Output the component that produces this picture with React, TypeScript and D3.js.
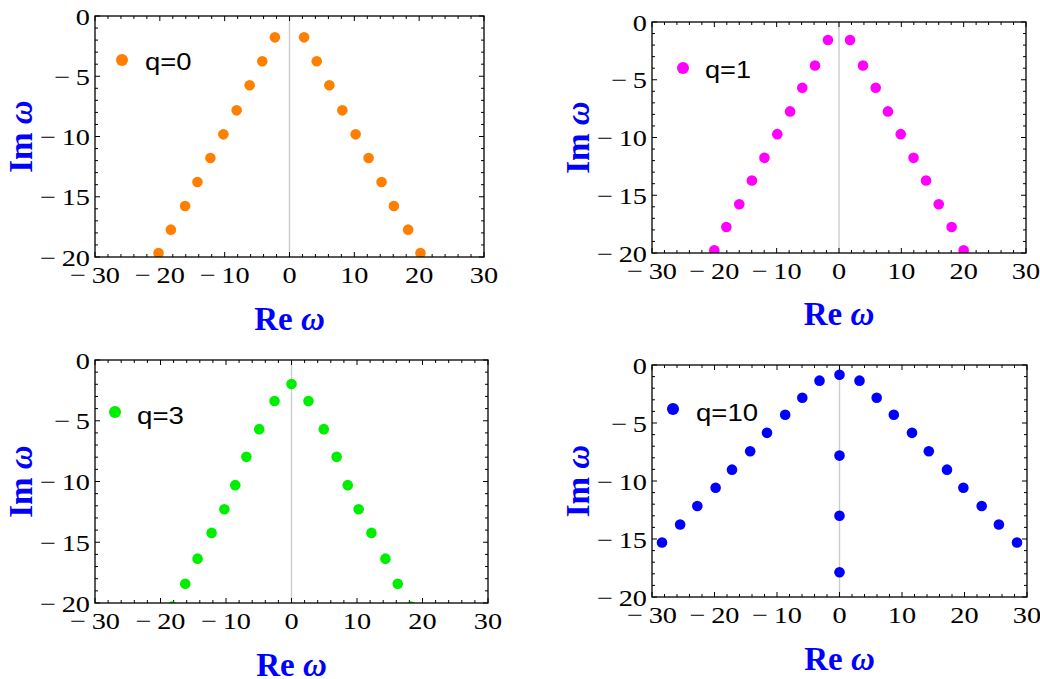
import * as d3 from "d3";

// quasinormal modes
const q0Re = [-20.2, -18.3, -16.1, -14.2, -12.2, -10.2, -8.15, -6.15, -4.2, -2.25, 2.25, 4.2, 6.15, 8.15, 10.2, 12.2, 14.2, 16.1, 18.3, 20.2];
const q0Im = [-19.67, -17.73, -15.77, -13.78, -11.78, -9.82, -7.83, -5.75, -3.76, -1.77, -1.77, -3.76, -5.75, -7.83, -9.82, -11.78, -13.78, -15.77, -17.73, -19.67];

const q1Re = [-20.0, -18.07, -16.0, -13.97, -11.96, -9.9, -7.85, -5.89, -3.85, -1.77, 1.77, 3.85, 5.89, 7.85, 9.9, 11.96, 13.97, 16.0, 18.07, 20.0];
const q1Im = [-19.77, -17.75, -15.78, -13.72, -11.76, -9.71, -7.74, -5.69, -3.76, -1.56, -1.56, -3.76, -5.69, -7.74, -9.71, -11.76, -13.72, -15.78, -17.75, -19.77];

const q3Re = [-18.2, -16.22, -14.34, -12.2, -10.25, -8.59, -6.89, -4.93, -2.59, 0, 2.59, 4.93, 6.89, 8.59, 10.25, 12.2, 14.34, 16.22, 18.2];
const q3Im = [-20.3, -18.41, -16.35, -14.23, -12.28, -10.3, -7.97, -5.69, -3.38, -1.98, -3.38, -5.69, -7.97, -10.3, -12.28, -14.23, -16.35, -18.41, -20.3];

const q10Re = [-28.4, -25.5, -22.75, -19.82, -17.2, -14.29, -11.6, -8.69, -5.95, -3.2, 0, 0, 0, 0, 3.2, 5.95, 8.69, 11.6, 14.29, 17.2, 19.82, 22.75, 25.5, 28.4];
const q10Im = [-15.3, -13.75, -12.16, -10.58, -9.02, -7.44, -5.85, -4.29, -2.82, -1.35, -0.84, -7.81, -13.0, -17.87, -1.35, -2.82, -4.29, -5.85, -7.44, -9.02, -10.58, -12.16, -13.75, -15.3];

const xTicks = [-30, -20, -10, 0, 10, 20, 30];
const yTicks = [0, -5, -10, -15, -20];

const panels = [
  { name: "q=0", re: q0Re, im: q0Im, color: "#ff8000", box: [95, 484, 16, 257], leg: [122, 60, 145, 70, 46.5], imX: 32, reY: 330 },
  { name: "q=1", re: q1Re, im: q1Im, color: "#ff00ff", box: [652, 1026, 22, 253], leg: [683, 68, 705, 78, 46], imX: 589, reY: 325 },
  { name: "q=3", re: q3Re, im: q3Im, color: "#00ee00", box: [95, 488, 360, 603], leg: [115, 412, 137, 424, 47], imX: 32, reY: 676 },
  { name: "q=10", re: q10Re, im: q10Im, color: "#0000ff", box: [652, 1027, 365, 597], leg: [673, 409, 696, 421, 62], imX: 589, reY: 670 },
];

const fmt = (v: number) => (v < 0 ? "\u2212\u2009" + Math.abs(v) : String(v));
const serif = "'Liberation Serif', 'Times New Roman', serif";
const labelBlue = "#0000ff";
const stretch = 1.18; // tick labels in the picture are a bit wider than plain Times

function Panel({ p, idx }: { p: any; idx: number }) {
  const [x0, x1, y0, y1] = p.box;
  const x = d3.scaleLinear().domain([-30, 30]).range([x0, x1]);
  const y = d3.scaleLinear().domain([-20, 0]).range([y1, y0]);
  const xMinor = d3.range(-30, 30.01, 2);
  const yMinor = d3.range(-20, 0.01, 1);
  const clipId = "clip" + idx;
  const [lx, ly, tx, ty, tl] = p.leg;
  const cx = (x0 + x1) / 2;
  const cy = (y0 + y1) / 2;

  return (
    <g>
      <defs>
        <clipPath id={clipId}>
          <rect x={x0 - 8} y={y0 - 8} width={x1 - x0 + 16} height={y1 - y0 + 8} />
        </clipPath>
      </defs>
      <line x1={x(0)} x2={x(0)} y1={y0} y2={y1} stroke="#cccccc" strokeWidth={1.4} />
      {/* ticks inside the frame, on all four sides */}
      {xMinor.map((t) => {
        const len = t % 10 === 0 ? 5 : 3;
        return (
          <g key={"xt" + t} stroke="#000" strokeWidth={1}>
            <line x1={x(t)} x2={x(t)} y1={y1} y2={y1 - len} />
            <line x1={x(t)} x2={x(t)} y1={y0} y2={y0 + len} />
          </g>
        );
      })}
      {yMinor.map((t) => {
        const len = t % 5 === 0 ? 5 : 3;
        return (
          <g key={"yt" + t} stroke="#000" strokeWidth={1}>
            <line x1={x0} x2={x0 + len} y1={y(t)} y2={y(t)} />
            <line x1={x1} x2={x1 - len} y1={y(t)} y2={y(t)} />
          </g>
        );
      })}
      <g clipPath={`url(#${clipId})`}>
        {p.re.map((r: number, i: number) => (
          <circle key={i} cx={x(r)} cy={y(p.im[i])} r={5.3} fill={p.color} />
        ))}
      </g>
      <rect x={x0} y={y0} width={x1 - x0} height={y1 - y0} fill="none" stroke="#000" strokeWidth={1.3} />
      {xTicks.map((t) => (
        <g key={"xl" + t} transform={`translate(${x(t)},${y1 + 26}) scale(${stretch},1)`}>
          <text textAnchor="middle" fontFamily={serif} fontSize={24}>
            {fmt(t)}
          </text>
        </g>
      ))}
      {yTicks.map((t) => (
        <g key={"yl" + t} transform={`translate(${x0 - 5},${y(t) + 8.5}) scale(${stretch},1)`}>
          <text textAnchor="end" fontFamily={serif} fontSize={24}>
            {fmt(t)}
          </text>
        </g>
      ))}
      <circle cx={lx} cy={ly} r={6} fill={p.color} />
      <text x={tx} y={ty} fontFamily="'Liberation Sans', Arial, sans-serif" fontSize={24} textLength={tl} lengthAdjust="spacingAndGlyphs">
        {p.name}
      </text>
      <text x={cx} y={p.reY} textAnchor="middle" fontFamily={serif} fontSize={33} fontWeight="bold" fill={labelBlue}>
        Re <tspan fontStyle="italic">ω</tspan>
      </text>
      <text transform={`translate(${p.imX},${cy}) rotate(-90)`} textAnchor="middle" fontFamily={serif} fontSize={33} fontWeight="bold" fill={labelBlue}>
        Im <tspan fontStyle="italic">ω</tspan>
      </text>
    </g>
  );
}

export default function App() {
  return (
    <svg width={1040} height={679} style={{ position: "absolute", left: 0, top: 0, background: "#fff" }}>
      {panels.map((p, i) => (
        <Panel key={p.name} p={p} idx={i} />
      ))}
    </svg>
  );
}
